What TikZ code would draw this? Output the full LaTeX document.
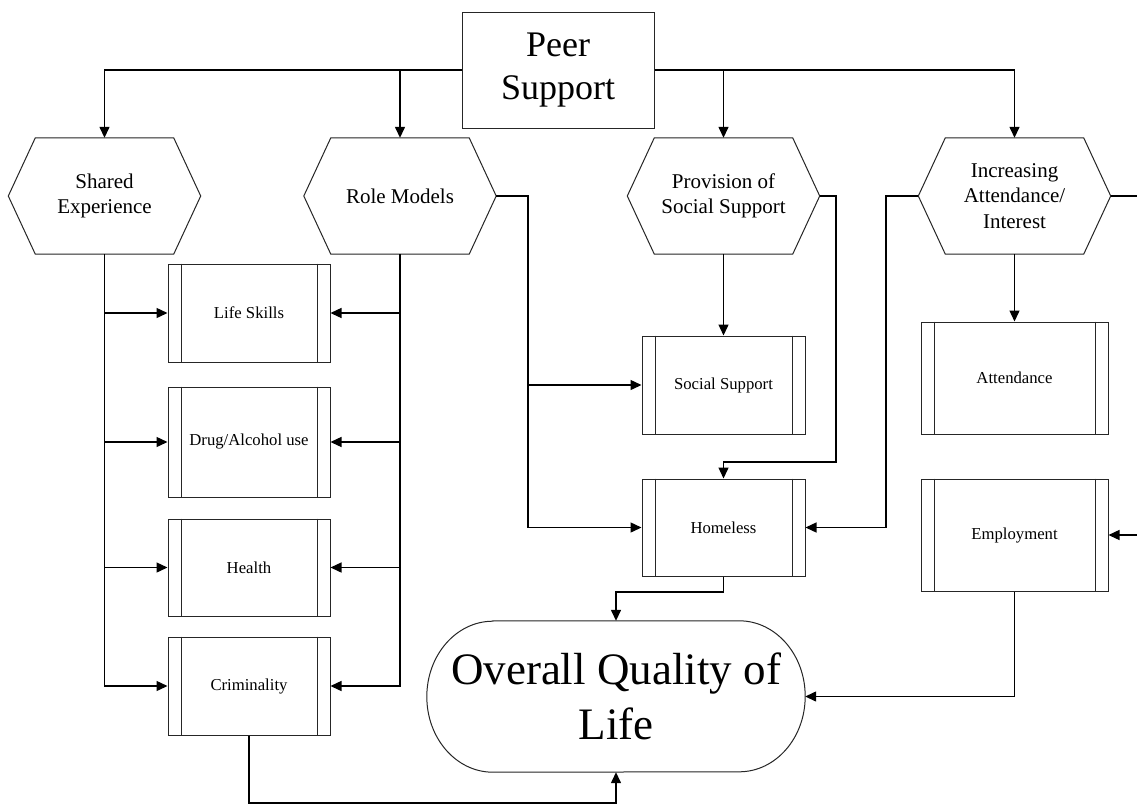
\documentclass[tikz,border=0pt]{standalone}
\usepackage{fontspec}
\setmainfont{Liberation Serif}
\usetikzlibrary{arrows.meta}
\tikzset{
  conn/.style={line width=1.4pt, draw=black},
  arr/.style={conn, -{Triangle[length=11pt,width=10pt]}},
  border/.style={line width=1pt, draw=black!85},
  peerbox/.style={border, draw, minimum width=192pt, minimum height=116pt, inner sep=0pt, align=center,
    font=\fontsize{36}{43}\selectfont},
  hexa/.style={minimum width=192pt, minimum height=116pt, inner sep=0pt, align=center,
    font=\fontsize{21}{25.5}\selectfont},
  procbox/.style={border, draw, minimum width=162pt, minimum height=98pt, inner sep=0pt, align=center,
    font=\fontsize{16.7}{20}\selectfont},
  endbox/.style={minimum width=378pt, minimum height=151pt, inner sep=0pt, align=center,
    font=\fontsize{45}{55}\selectfont}
}
\begin{document}
\begin{tikzpicture}[x=1pt,y=-1pt]
\useasboundingbox (0,0) rectangle (1137,806);
\fill[white] (0,0) rectangle (1137,806);
\clip (0,0) rectangle (1137,806);

% top
\node[peerbox] (peer) at (558,70) {Peer\\Support};

% hexagons
\node[hexa] (se) at (104.5,196) {Shared\\Experience};
\node[hexa] (rm) at (400,196) {Role Models};
\node[hexa] (ps) at (723.5,196) {Provision of\\Social Support};
\node[hexa] (ia) at (1014.5,196) {Increasing\\Attendance/\\Interest};
\foreach \n in {se,rm,ps,ia}
  \draw[border] (\n.west) -- ([xshift=27pt]\n.north west) -- ([xshift=-27pt]\n.north east)
     -- (\n.east) -- ([xshift=-27pt]\n.south east) -- ([xshift=27pt]\n.south west) -- cycle;

% process boxes
\node[procbox] (ls) at (249,313) {Life Skills};
\node[procbox, minimum height=110pt] (da) at (249,442) {Drug/Alcohol use};
\node[procbox, minimum height=97pt] (he) at (249,567.5) {Health};
\node[procbox] (cr) at (249,686) {Criminality};
\node[procbox, minimum width=163pt] (ss) at (723.5,385) {Social Support};
\node[procbox, minimum width=163pt, minimum height=97pt] (ho) at (723.5,527.5) {Homeless};
\node[procbox, minimum width=187pt, minimum height=112pt] (at) at (1014.5,378) {Attendance};
\node[procbox, minimum width=187pt, minimum height=112pt] (em) at (1014.5,535) {Employment};
\foreach \n in {ls,da,he,cr,ss,ho,at,em}{
  \draw[border] ([xshift=13.5pt]\n.north west) -- ([xshift=13.5pt]\n.south west);
  \draw[border] ([xshift=-13.5pt]\n.north east) -- ([xshift=-13.5pt]\n.south east);
}

% terminal
\node[endbox] (oq) at (616,696.5) {Overall Quality of\\Life};
\draw[border] ([xshift=66pt]oq.north west) -- ([xshift=-66pt]oq.north east)
  arc[start angle=90, end angle=-90, x radius=66pt, y radius=75.5pt]
  -- ([xshift=66pt]oq.south west)
  arc[start angle=270, end angle=90, x radius=66pt, y radius=75.5pt] -- cycle;

% connectors from Peer Support
\draw[arr] (peer.west) -| (se.north);
\draw[arr] (peer.west) -| (rm.north);
\draw[arr] (peer.east) -| (ps.north);
\draw[arr] (peer.east) -| (ia.north);

% Shared Experience
\foreach \t in {ls,da,he,cr}
  \draw[arr] (se.south) |- (\t.west);
% Role Models
\foreach \t in {ls,da,he,cr}
  \draw[arr] (rm.south) |- (\t.east);
\coordinate (rmx) at (528,196);
\draw[arr] (rm.east) -- (rmx) |- (ss.west);
\draw[arr] (rm.east) -- (rmx) |- (ho.west);

% Provision of Social Support
\draw[arr] (ps.south) -- (ss.north);
\coordinate (psx) at (836,196);
\coordinate (psy) at (836,462);
\draw[arr] (ps.east) -- (psx) -- (psy) -| (ho.north);

% Increasing Attendance
\coordinate (iax) at (886,196);
\draw[arr] (ia.west) -- (iax) |- (ho.east);
\draw[arr] (ia.south) -- (at.north);
\coordinate (iae) at (1165,196);
\draw[arr] (ia.east) -- (iae) |- (em.east);

% to Overall Quality of Life
\coordinate (hoy) at (723.5,592);
\draw[arr] (ho.south) -- (hoy) -| (oq.north);
\draw[arr] (em.south) |- (oq.east);
\coordinate (cry) at (249,803);
\draw[arr] (cr.south) -- (cry) -| (oq.south);
\end{tikzpicture}
\end{document}
